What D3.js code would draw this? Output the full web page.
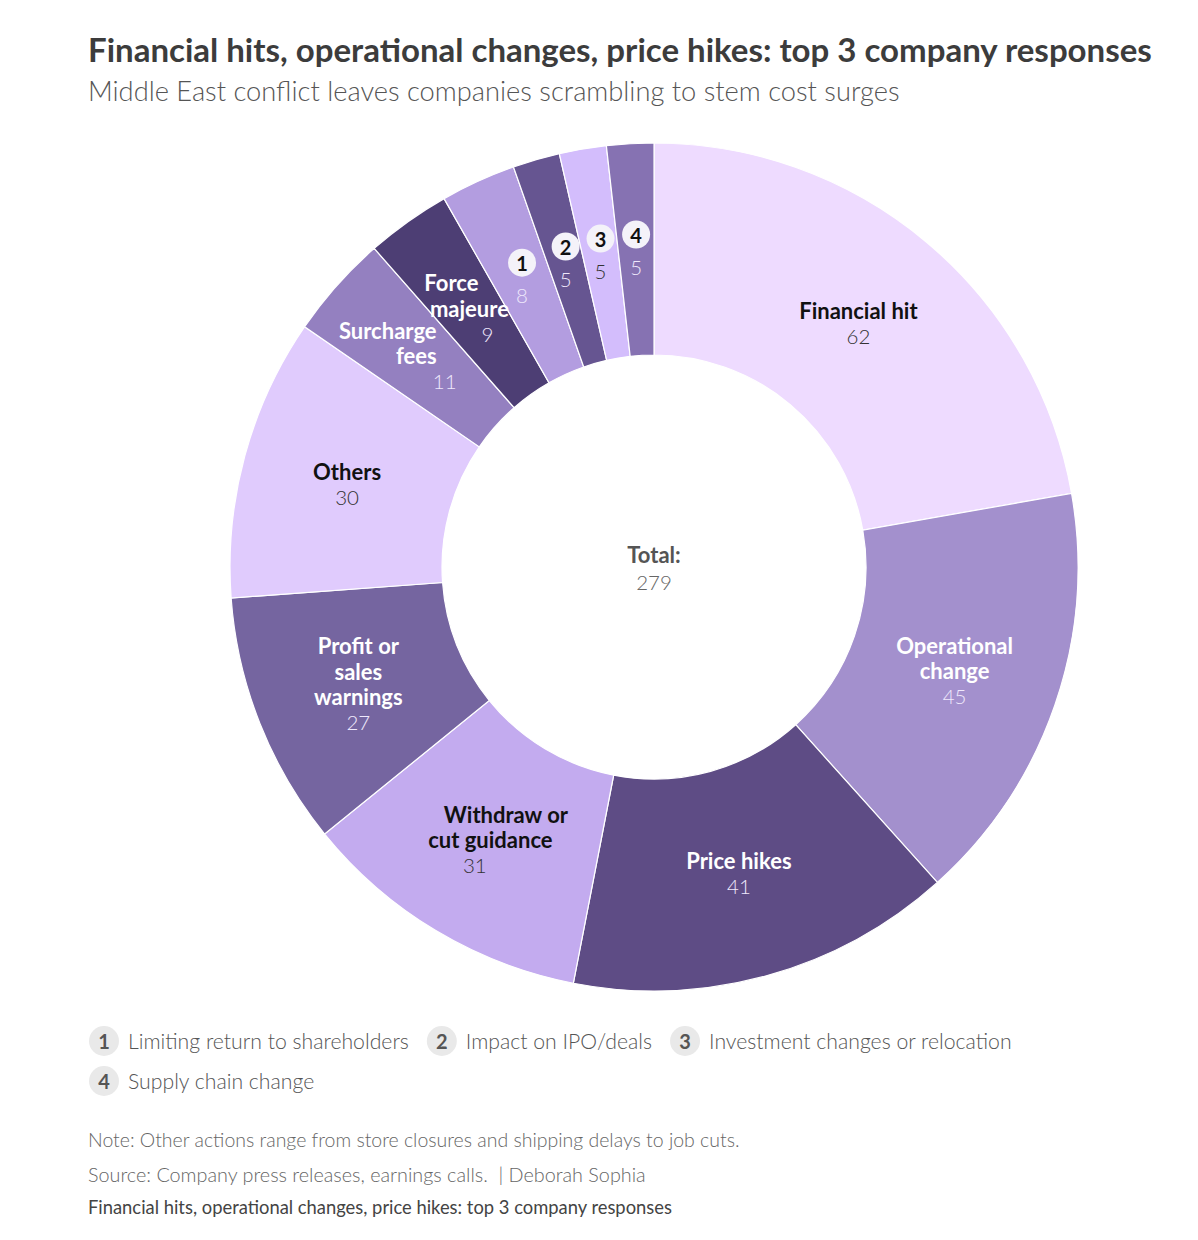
<!DOCTYPE html>
<html>
<head>
<meta charset="utf-8">
<script src="https://cdn.jsdelivr.net/npm/d3@7"></script>
<style>
  html, body { margin: 0; padding: 0; background: #fff; }
  svg { display: block; }
  text { font-family: Lato, "Noto Sans", sans-serif; }
</style>
</head>
<body>
<svg id="chart" width="1198" height="1240"></svg>
<script>
// ---------- DATA ----------
const categories = [
  "Financial hit", "Operational change", "Price hikes", "Withdraw or cut guidance",
  "Profit or sales warnings", "Others", "Surcharge fees", "Force majeure",
  "Limiting return to shareholders", "Impact on IPO/deals",
  "Investment changes or relocation", "Supply chain change"
];
const values = [62, 45, 41, 31, 27, 30, 11, 9, 8, 5, 5, 5];
const sliceLabelLines = [
  ["Financial hit"], ["Operational", "change"], ["Price hikes"], ["Withdraw or", "cut guidance"],
  ["Profit or", "sales", "warnings"], ["Others"], ["Surcharge", "fees"], ["Force", "majeure"],
  null, null, null, null
];
const badgeNumbers = [null, null, null, null, null, null, null, null, "1", "2", "3", "4"];
const sliceColors = [
  "#eedbff", "#a390cd", "#5e4c85", "#c3abef", "#7565a0", "#e0cbfd",
  "#9480c0", "#4d3e74", "#b39de0", "#665591", "#d3bdfc", "#8672b2"
];
const darkSlice = [false, true, true, false, true, false, true, true, true, true, false, true];
const legendNumbers = ["1", "2", "3", "4"];
const legendLabels = ["Limiting return to shareholders", "Impact on IPO/deals",
  "Investment changes or relocation", "Supply chain change"];
const titleText = "Financial hits, operational changes, price hikes: top 3 company responses";
const subtitleText = "Middle East conflict leaves companies scrambling to stem cost surges";
const noteText = "Note: Other actions range from store closures and shipping delays to job cuts.";
const sourceText = "Source: Company press releases, earnings calls.  | Deborah Sophia";
const footerText = "Financial hits, operational changes, price hikes: top 3 company responses";
const totalLabel = "Total:";

// ---------- LAYOUT ----------
const svg = d3.select("#chart");
const cx = 654, cy = 567, rOuter = 424, rInner = 212;
// label line shear tweaks (layout only)
const labelShear = { 3: -15.5, 6: 28.5, 7: 18 };

function fitWidth(sel, target) {
  const w = sel.node().getComputedTextLength();
  const fs = parseFloat(sel.attr("font-size"));
  sel.attr("font-size", fs * target / w);
  return fs * target / w;
}

// Title & subtitle
const title = svg.append("text").attr("x", 88).attr("y", 62)
  .attr("font-size", 30).attr("font-weight", 700).attr("fill", "#3c3c3c").text(titleText);
fitWidth(title, 1064);
const subtitle = svg.append("text").attr("x", 88).attr("y", 101)
  .attr("font-size", 26).attr("font-weight", 300).attr("fill", "#555").text(subtitleText);
fitWidth(subtitle, 812);

// Donut
const total = d3.sum(values);
const data = values.map((v, i) => ({ v, i }));
const pie = d3.pie().sort(null).value(d => d.v);
const arcs = pie(data);
const arc = d3.arc().innerRadius(rInner).outerRadius(rOuter);

const g = svg.append("g").attr("transform", `translate(${cx},${cy})`);
g.selectAll("path.slice").data(arcs).join("path")
  .attr("class", "slice")
  .attr("d", arc)
  .attr("fill", d => sliceColors[d.data.i])
  .attr("stroke", "#fff")
  .attr("stroke-width", 1.2);

const lineH = 25.5;
arcs.forEach(a => {
  const i = a.data.i;
  const [x, y] = arc.centroid(a);
  const dark = darkSlice[i];
  if (sliceLabelLines[i]) {
    const lines = sliceLabelLines[i].map(t => ({ t, bold: true })).concat([{ t: String(values[i]), bold: false }]);
    const shear = labelShear[i] || 0;
    const n = lines.length;
    lines.forEach((ln, k) => {
      const off = k - (n - 1) / 2;
      g.append("text")
        .attr("x", x + off * shear)
        .attr("y", y + off * lineH)
        .attr("text-anchor", "middle")
        .attr("dominant-baseline", "central")
        .attr("font-size", ln.bold ? 22 : 20.5)
        .attr("font-weight", ln.bold ? 700 : 300)
        .attr("fill", ln.bold ? (dark ? "#ffffff" : "#111111") : (dark ? "#efe8fc" : "#333333"))
        .text(ln.t);
    });
  } else if (badgeNumbers[i]) {
    g.append("circle").attr("cx", x).attr("cy", y - 15).attr("r", 14)
      .attr("fill", "#f4f2f9");
    g.append("text").attr("x", x).attr("y", y - 15)
      .attr("text-anchor", "middle").attr("dominant-baseline", "central")
      .attr("font-size", 20).attr("font-weight", 700).attr("fill", "#111")
      .text(badgeNumbers[i]);
    g.append("text").attr("x", x).attr("y", y + 17)
      .attr("text-anchor", "middle").attr("dominant-baseline", "central")
      .attr("font-size", 20.5).attr("font-weight", 300)
      .attr("fill", dark ? "#efe8fc" : "#333")
      .text(values[i]);
  }
});

// Total in center
g.append("text").attr("x", 0).attr("y", -13).attr("text-anchor", "middle")
  .attr("dominant-baseline", "central").attr("font-size", 22).attr("font-weight", 700)
  .attr("fill", "#555").text(totalLabel);
g.append("text").attr("x", 0).attr("y", 15).attr("text-anchor", "middle")
  .attr("dominant-baseline", "central").attr("font-size", 20.5).attr("font-weight", 300)
  .attr("fill", "#666").text(total);

// Legend (flow layout)
const probe = svg.append("text").attr("font-size", 21).attr("font-weight", 300).text(legendLabels[0]);
const legendFs = fitWidth(probe, 281);
probe.remove();
const legendG = svg.append("g");
let lx = 88, ly = 1041;
const maxX = 1110, rowH = 40, circR = 15;
legendNumbers.forEach((num, k) => {
  const item = legendG.append("g");
  item.append("circle").attr("cx", circR + 1).attr("cy", 0).attr("r", circR).attr("fill", "#e9e9e9");
  item.append("text").attr("x", circR + 1).attr("y", 0).attr("text-anchor", "middle")
    .attr("dominant-baseline", "central").attr("font-size", 20).attr("font-weight", 700)
    .attr("fill", "#555").text(num);
  const t = item.append("text").attr("x", 40).attr("y", 0)
    .attr("dominant-baseline", "central").attr("font-size", legendFs).attr("font-weight", 300)
    .attr("fill", "#555").text(legendLabels[k]);
  const w = 40 + t.node().getComputedTextLength();
  if (lx + w > maxX && lx > 88) { lx = 88; ly += rowH; }
  item.attr("transform", `translate(${lx},${ly})`);
  lx += w + 17;
});

// Notes
const note = svg.append("text").attr("x", 88).attr("y", 1147).attr("font-size", 18).attr("font-weight", 300)
  .attr("fill", "#666").text(noteText);
fitWidth(note, 652);
const src = svg.append("text").attr("x", 88).attr("y", 1182).attr("font-size", 18).attr("font-weight", 300)
  .attr("fill", "#666").style("white-space", "pre").text(sourceText);
fitWidth(src, 558);
const foot = svg.append("text").attr("x", 88).attr("y", 1214).attr("font-size", 17).attr("font-weight", 400)
  .attr("fill", "#444").text(footerText);
fitWidth(foot, 584);
</script>
</body>
</html>
